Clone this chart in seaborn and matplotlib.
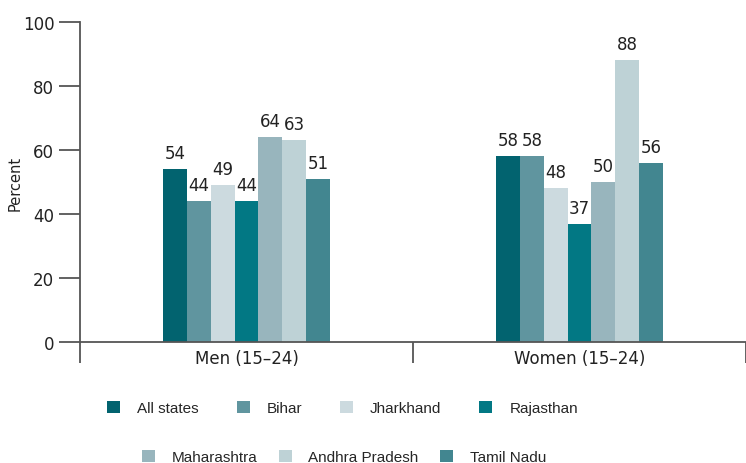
import matplotlib
matplotlib.use("Agg")
import matplotlib.pyplot as plt
from matplotlib import font_manager
import seaborn as sns
import pandas as pd

groups = ["Men (15\u201324)", "Women (15\u201324)"]
states = ["All states", "Bihar", "Jharkhand", "Rajasthan", "Maharashtra", "Andhra Pradesh", "Tamil Nadu"]
men_values = [54, 44, 49, 44, 64, 63, 51]
women_values = [58, 58, 48, 37, 50, 88, 56]
colors = ["#02636F", "#60959F", "#CCDADF", "#027884", "#98B5BD", "#BED2D6", "#428690"]
yticks = [0, 20, 40, 60, 80, 100]

rows = []
for s, m, w in zip(states, men_values, women_values):
    rows.append({"group": groups[0], "state": s, "value": m})
    rows.append({"group": groups[1], "state": s, "value": w})
df = pd.DataFrame(rows)

sns.set_style("white")
plt.rcParams["font.family"] = ["DejaVu Sans"]

names = {f.name for f in font_manager.fontManager.ttflist}
leg_family = "Liberation Sans Narrow" if "Liberation Sans Narrow" in names else "Liberation Sans"

fig = plt.figure(figsize=(7.46, 4.64), dpi=100)
ax = fig.add_axes([80/746, 1-343/464, 1-80/746, (343-23)/464])

sns.barplot(data=df, x="group", y="value", hue="state", order=groups, hue_order=states,
            palette=colors, width=0.5, saturation=1, ax=ax, legend=False, errorbar=None,
            linewidth=0, edgecolor="none")

for c in ax.containers:
    ax.bar_label(c, fmt="%d", padding=5, fontsize=12, color="#222222")

ax.set_ylim(0, 100)
ax.set_xlim(-0.5, 1.5)
ax.set_yticks(yticks)
ax.set_yticklabels([str(t) for t in yticks], fontsize=12, color="#222222")
ax.set_xticks([0, 1])
ax.set_xticklabels(groups, fontsize=12, color="#222222")
ax.set_xticks([-0.5, 0.5, 1.5], minor=True)
ax.tick_params(axis="x", which="major", bottom=True, length=0, pad=5)
ax.tick_params(axis="x", which="minor", bottom=True, length=15, width=1.3, color="#555555", direction="out")
ax.tick_params(axis="y", left=True, length=15, width=1.3, color="#555555", direction="out", pad=3.5)
ax.set_xlabel("")
ax.set_ylabel("Percent", fontsize=10.5, color="#222222", labelpad=0)
for side in ["top", "right"]:
    ax.spines[side].set_visible(False)
for side in ["left", "bottom"]:
    ax.spines[side].set_color("#555555")
    ax.spines[side].set_linewidth(1.3)

handles = ax.containers
leg_font = {"family": [leg_family, "DejaVu Sans"], "size": 11}
fig.legend([handles[i] for i in range(4)], states[:4], ncol=4, loc="center",
           bbox_to_anchor=(0.459, 1-409/464), frameon=False, prop=leg_font,
           handlelength=0.85, handleheight=0.85, handletextpad=1.1, columnspacing=2.5)
fig.legend([handles[i] for i in range(4, 7)], states[4:], ncol=3, loc="center",
           bbox_to_anchor=(0.461, 1-458/464), frameon=False, prop=leg_font,
           handlelength=0.85, handleheight=0.85, handletextpad=1.1, columnspacing=1.4)

fig.savefig("out.png", dpi=100)
